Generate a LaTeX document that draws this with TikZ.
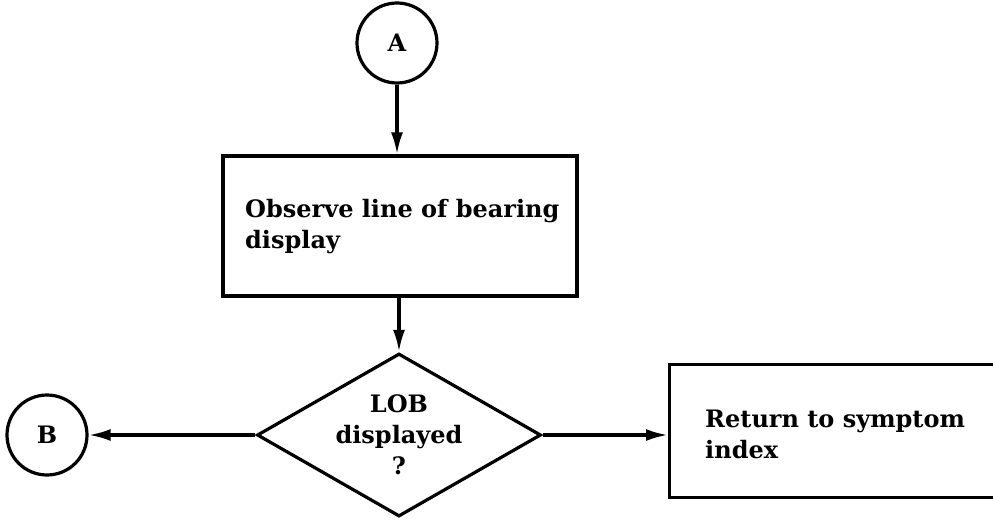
\documentclass[tikz,border=0pt]{standalone}
\usepackage{fontspec}
\setmainfont{DejaVu Serif}
\usetikzlibrary{shapes.geometric,arrows.meta}
\begin{document}
\begin{tikzpicture}[x=1pt,y=-1pt,
  every node/.style={font=\bfseries\fontsize{24}{31}\selectfont},
  ln/.style={line width=3.2pt},
  conn/.style={ln,-{Latex[length=22pt,width=12pt]}},
  connector/.style={ln,draw,circle,minimum size=80pt,inner sep=0pt},
  stepbox/.style={ln,draw,rectangle,inner sep=0pt},
  decision/.style={ln,draw,diamond,inner sep=0pt,minimum width=284pt,minimum height=163pt},
  label/.style={align=left,inner sep=0pt}]
\useasboundingbox (0,0) rectangle (993,522);

% connectors and blocks
\node[connector] (A) at (397,43) {A};
\node[stepbox,minimum width=354pt,minimum height=140pt] (obs) at (400,226) {};
\node[label,anchor=west] at (245,227) {Observe line of bearing\\display};
\node[decision] (dec) at (399,435) {};
\node[label,align=center] at (dec) {LOB\\displayed\\?};
\node[connector] (B) at (47,435) {B};
\node[stepbox,anchor=west,minimum width=360pt,minimum height=133pt] (ret) at (668,431) {};
\node[label,anchor=west] at (705,434) {Return to symptom\\index};

% flow lines
\draw[conn] (A) -- (A |- obs.north);
\draw[conn] (obs.south -| dec.north) -- (dec.north);
\draw[conn] (dec.west) -- (B);
\draw[conn] (dec.east) -- (dec.east -| ret.west);
\end{tikzpicture}
\end{document}
